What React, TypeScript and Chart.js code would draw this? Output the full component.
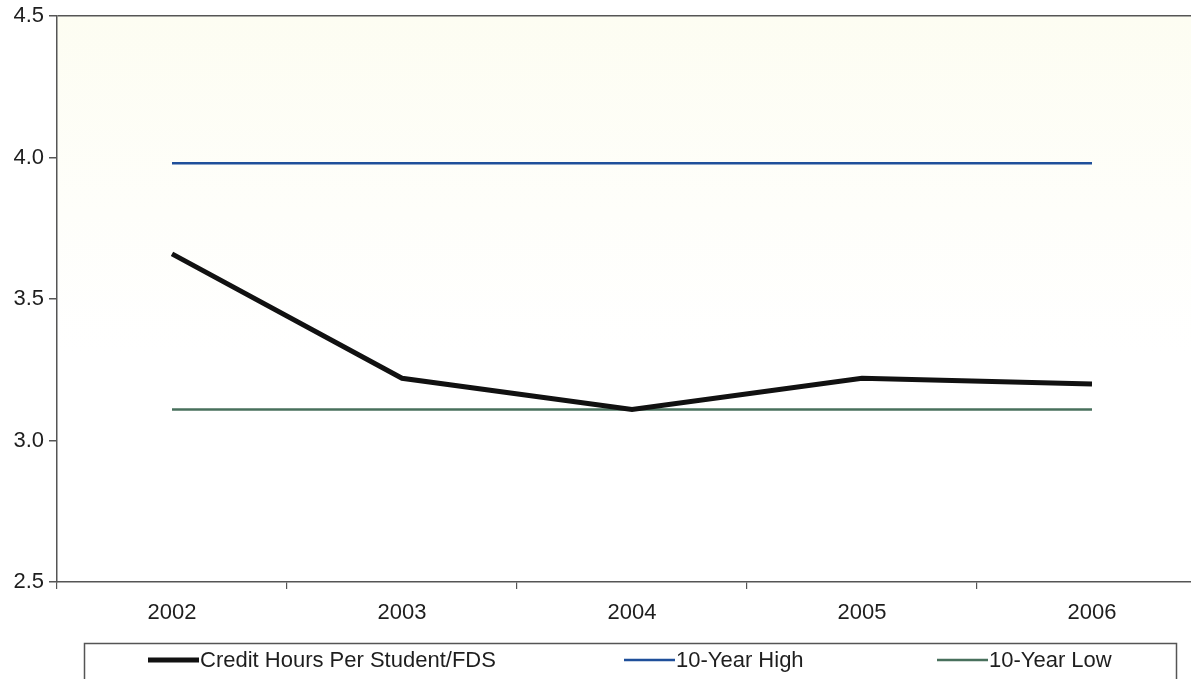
import React, { useEffect, useRef } from "react";
import { Chart, registerables } from "chart.js";

Chart.register(...registerables);

const years = ["2002", "2003", "2004", "2005", "2006"];
const creditHours = [3.66, 3.22, 3.11, 3.22, 3.2];
const tenYearHigh = [3.98, 3.98, 3.98, 3.98, 3.98];
const tenYearLow = [3.11, 3.11, 3.11, 3.11, 3.11];
const yTicks = [2.5, 3.0, 3.5, 4.0, 4.5];

const FONT = "'Liberation Sans', Arial, sans-serif";
const TEXT = "#1e1e1e";
const AXIS = "#555555";
const SHIFT = 2;

const legendBox = {
  id: "legendBox",
  afterDraw(chart: any) {
    const ctx = chart.ctx;
    ctx.save();
    ctx.strokeStyle = AXIS;
    ctx.lineWidth = 1.5;
    ctx.strokeRect(84.5, 643.5 + SHIFT, 1092, 60);
    const xs = [148, 624, 937];
    ctx.font = `22px ${FONT}`;
    ctx.textBaseline = "middle";
    ctx.textAlign = "left";
    chart.data.datasets.forEach((ds: any, i: number) => {
      const y = 660 + SHIFT;
      ctx.strokeStyle = ds.borderColor;
      ctx.lineWidth = ds.borderWidth;
      ctx.beginPath();
      ctx.moveTo(xs[i], y);
      ctx.lineTo(xs[i] + 51, y);
      ctx.stroke();
      ctx.fillStyle = TEXT;
      ctx.fillText(ds.label, xs[i] + 52, y + 1);
    });
    ctx.restore();
  },
};

const plotBg = {
  id: "plotBg",
  beforeDraw(chart: any) {
    const { ctx, chartArea } = chart;
    ctx.save();
    const g = ctx.createLinearGradient(0, chartArea.top, 0, chartArea.bottom);
    g.addColorStop(0, "#fdfdf2");
    g.addColorStop(0.35, "#fefefa");
    g.addColorStop(0.6, "#ffffff");
    ctx.fillStyle = g;
    ctx.fillRect(chartArea.left, chartArea.top, chartArea.right - chartArea.left, chartArea.bottom - chartArea.top);
    ctx.restore();
  },
};

export default function App() {
  const ref = useRef<HTMLCanvasElement>(null);
  useEffect(() => {
    if (!ref.current) return;
    const chart = new Chart(ref.current, {
      type: "line",
      data: {
        labels: years,
        datasets: [
          {
            label: "Credit Hours Per Student/FDS",
            data: creditHours,
            borderColor: "#111111",
            borderWidth: 5,
            pointRadius: 0,
            tension: 0,
            borderCapStyle: "butt",
            borderJoinStyle: "miter",
          },
          {
            label: "10-Year High",
            data: tenYearHigh,
            borderColor: "#1f4f9a",
            borderWidth: 2.5,
            pointRadius: 0,
          },
          {
            label: "10-Year Low",
            data: tenYearLow,
            borderColor: "#48705c",
            borderWidth: 2.5,
            pointRadius: 0,
          },
        ],
      },
      options: {
        responsive: false,
        animation: false,
        layout: { padding: { top: 13, left: 0, right: 0, bottom: 0 } },
        plugins: { legend: { display: false }, tooltip: { enabled: false } },
        scales: {
          x: {
            offset: true,
            grid: {
              offset: true,
              drawOnChartArea: false,
              tickLength: 7,
              color: AXIS,
              lineWidth: 1.2,
            },
            border: { color: AXIS, width: 1.5 },
            ticks: { color: TEXT, font: { family: FONT, size: 22 }, padding: 11 },
            afterFit(scale: any) {
              scale.height = 97;
            },
          },
          y: {
            min: 2.5,
            max: 4.5,
            afterBuildTicks(scale: any) {
              scale.ticks = yTicks.map((v) => ({ value: v }));
            },
            grid: {
              drawOnChartArea: true,
              tickLength: 8,
              color: (c: any) => (c.tick && c.tick.value === 4.5 ? AXIS : "rgba(0,0,0,0)"),
              tickColor: AXIS,
              lineWidth: 1.5,
            },
            border: { color: AXIS, width: 1.5 },
            ticks: {
              color: TEXT,
              font: { family: FONT, size: 22 },
              padding: 5,
              callback: (v: any) => Number(v).toFixed(1),
            },
            afterFit(scale: any) {
              scale.width = 57;
            },
          },
        },
      },
      plugins: [plotBg, legendBox],
    } as any);
    return () => chart.destroy();
  }, []);
  return (
    <div style={{ position: "absolute", left: 0, top: 0, width: 1191, height: 679, overflow: "hidden", background: "#fff" }}>
      <canvas
        ref={ref}
        width={1207}
        height={679 + SHIFT}
        style={{ display: "block", position: "absolute", left: 0, top: -SHIFT }}
      />
    </div>
  );
}
